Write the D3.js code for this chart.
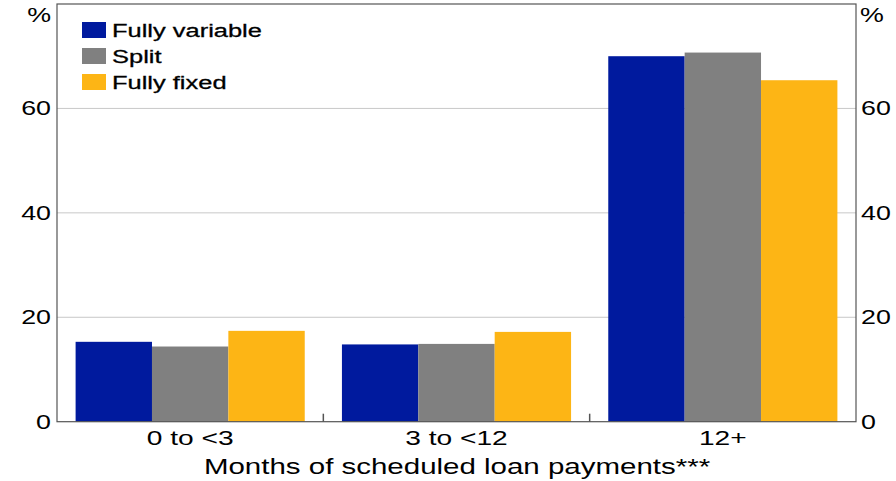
<!DOCTYPE html>
<html><head><meta charset="utf-8">
<script src="https://cdn.jsdelivr.net/npm/d3@7"></script>
<style>body{margin:0;background:#fff}svg{display:block}text{font-family:Arial,"Liberation Sans",sans-serif;fill:#000}</style>
</head><body>
<svg id="c" width="896" height="481"></svg>
<script>
const categories = ["0 to <3", "3 to <12", "12+"];
const seriesNames = ["Fully variable", "Split", "Fully fixed"];
const fullyVariable = [15.3, 14.8, 70.0];
const split = [14.4, 14.9, 70.7];
const fullyFixed = [17.4, 17.2, 65.4];
const yTicks = [0, 20, 40, 60];
const colors = ["#001a9e", "#808080", "#fdb515"];
const seriesValues = [fullyVariable, split, fullyFixed];

const SX = 1.34;
const svg = d3.select("#c");
const m = {l:57, r:856, t:4, b:421.7};
const x = d3.scaleBand().domain(categories).range([m.l, m.r]).paddingInner(0).paddingOuter(0);
const xi = d3.scaleBand().domain(seriesNames).range([18.6, x.bandwidth() - 18.6]).paddingOuter(0).paddingInner(0);
const y = d3.scaleLinear().domain([0, 80]).range([m.b, m.t]);

function txt(parent, px, py, s, size, anchor) {
  return parent.append("text")
    .attr("transform", `translate(${px},${py}) scale(${SX},1)`)
    .attr("text-anchor", anchor || "start").attr("font-size", size).text(s);
}

// gridlines
svg.append("g").selectAll("line").data(yTicks.filter(d=>d>0)).join("line")
  .attr("x1", m.l).attr("x2", m.r).attr("y1", d=>y(d)).attr("y2", d=>y(d))
  .attr("stroke", "#c8c8c8").attr("stroke-width", 1);

// bars
const g = svg.append("g");
categories.forEach((c, ci) => {
  seriesNames.forEach((s, si) => {
    const v = seriesValues[si][ci];
    g.append("rect").attr("x", x(c) + xi(s)).attr("width", xi.bandwidth())
      .attr("y", y(v)).attr("height", y(0) - y(v)).attr("fill", colors[si]);
  });
});

// frame
svg.append("rect").attr("x", m.l).attr("y", m.t).attr("width", m.r - m.l).attr("height", m.b - m.t)
  .attr("fill", "none").attr("stroke", "#555").attr("stroke-width", 1.2);

// category ticks
svg.append("g").selectAll("line").data(categories.slice(1)).join("line")
  .attr("x1", d=>x(d)).attr("x2", d=>x(d)).attr("y1", m.b).attr("y2", m.b - 8)
  .attr("stroke", "#555").attr("stroke-width", 1.5);

// y axis labels (left & right)
const ya = svg.append("g");
yTicks.forEach(t => {
  txt(ya, m.l - 6, y(t) + 7, String(t), 20, "end");
  txt(ya, m.r + 5, y(t) + 7, String(t), 20, "start");
});
txt(svg, m.l - 6, 22, "%", 20, "end");
txt(svg, m.r + 4, 22, "%", 20, "start");

// category labels
const cg = svg.append("g");
categories.forEach(c => txt(cg, x(c) + x.bandwidth()/2, 445, c, 21, "middle"));

txt(svg, 457, 474, "Months of scheduled loan payments***", 22, "middle");

// legend
const lg = svg.append("g");
seriesNames.forEach((s, i) => {
  const yy = 22 + i * 26;
  lg.append("rect").attr("x", 82).attr("y", yy).attr("width", 24).attr("height", 16).attr("fill", colors[i]);
  txt(lg, 112, yy + 15, s, 19).attr("stroke", "#000").attr("stroke-width", 0.3);
});
</script>
</body></html>
